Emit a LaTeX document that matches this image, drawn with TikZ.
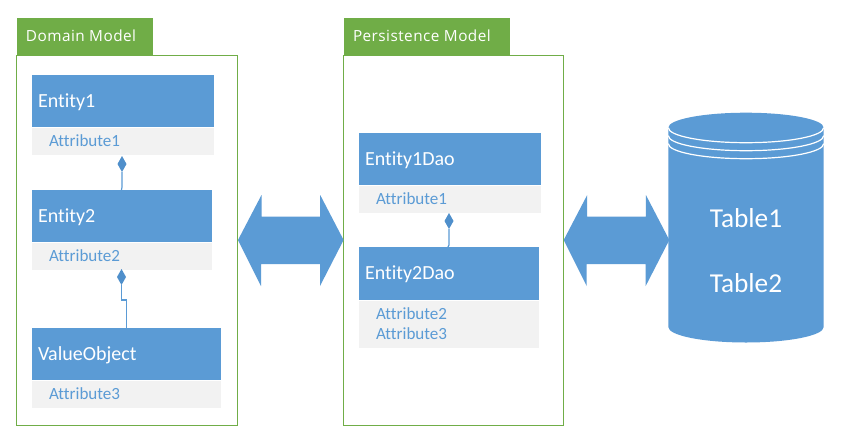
\documentclass[tikz,border=0pt]{standalone}
\usepackage{fontspec}
\setmainfont[Ligatures=NoCommon]{Carlito}
\newfontfamily\tabfont[LetterSpace=3]{Open Sans}
\definecolor{cblue}{HTML}{5B9BD5}
\definecolor{cgreen}{HTML}{70AD47}
\definecolor{cgrey}{HTML}{F2F2F2}
\definecolor{cdark}{HTML}{4F8FCB}
\tikzset{
  x=0.75pt,y=-0.75pt,
  headbox/.style={fill=cblue,inner sep=0pt,outer sep=0pt,text=white,font=\fontsize{15}{18}\selectfont,anchor=north west},
  attrbox/.style={fill=cgrey,inner sep=0pt,outer sep=0pt,text=cblue,font=\fontsize{12.8}{15}\selectfont,anchor=north west},
  tabbox/.style={fill=cgreen,inner sep=0pt,outer sep=0pt,text=white,font=\tabfont\fontsize{11.5}{13}\selectfont,anchor=north west},
  headboxtext/.style={yshift=-0.75pt},
  attrboxtext/.style={yshift=0.4pt},
  tabboxtext/.style={yshift=0.75pt},
  frame/.style={draw=cgreen,line width=0.75pt,fill=white,inner sep=0pt,outer sep=0pt,anchor=north west},
  link/.style={draw=cblue,line width=0.9pt},
  dia/.style={fill=cdark,draw=none},
  tabletext/.style={text=white,font=\fontsize{20.5}{24}\selectfont,inner sep=0pt},
}
\newcommand{\pxbox}[8]{% name style x y w h text xshift
  \node[#2,minimum width=#5*0.75pt,minimum height=#6*0.75pt] (#1) at (#3,#4) {};
  \node[#2,#2text,fill=none,anchor=west] (#1t) at ([xshift=#8*0.75pt]#1.west) {#7};
}
\newcommand{\diam}[3]{% name x ytop
  \coordinate (#1t) at (#2,#3);
  \coordinate (#1b) at (#2,#3+16);
  \fill[dia] (#1t) -- (#2+4.5,#3+8) -- (#1b) -- (#2-4.5,#3+8) -- cycle;
}
\newcommand{\dblarrow}[1]{% x-left
  \fill[cblue] (#1,240) -- (#1+23.5,195) -- (#1+23.5,216.7) -- (#1+82.2,216.7) -- (#1+82.2,195) -- (#1+105.6,240) -- (#1+82,286) -- (#1+82,264) -- (#1+23,264) -- (#1+23,286) -- cycle;
}
\begin{document}
\begin{tikzpicture}
\useasboundingbox (0,0) rectangle (847,447);
\fill[white] (0,0) rectangle (847,447);

% frames
\node[frame,minimum width=221*0.75pt,minimum height=370*0.75pt] (f1) at (16.5,55.5) {};
\node[frame,minimum width=220*0.75pt,minimum height=370*0.75pt] (f2) at (343.5,55.5) {};
\pxbox{tab1}{tabbox}{17}{18}{136}{37}{Domain Model}{9}
\pxbox{tab2}{tabbox}{344}{18}{166}{37}{Persistence Model}{9}

% left model
\pxbox{e1}{headbox}{32}{75}{182}{52}{Entity1}{6}
\pxbox{a1}{attrbox}{32}{128}{182}{27}{Attribute1}{17}
\pxbox{e2}{headbox}{32}{190}{180}{52}{Entity2}{6}
\pxbox{a2}{attrbox}{32}{243}{180}{27}{Attribute2}{17}
\pxbox{e3}{headbox}{32}{328}{189}{52}{ValueObject}{6}
\pxbox{a3}{attrbox}{32}{381}{189}{27}{Attribute3}{17}

% right model
\pxbox{e4}{headbox}{359}{133}{182}{52}{Entity1Dao}{6}
\pxbox{a4}{attrbox}{359}{186}{182}{27}{Attribute1}{17}
\pxbox{e5}{headbox}{359}{247}{180}{53}{Entity2Dao}{6}
\node[attrbox,minimum width=180*0.75pt,minimum height=47.5*0.75pt] (a5) at (359,300.5) {};
\node[attrbox,fill=none,anchor=north west,align=left] (a5t) at (376,307.5) {Attribute2\\Attribute3};

% diamonds and links
\diam{d1}{122}{156}
\diam{d2}{121.5}{269}
\diam{d3}{449}{213}
\coordinate (c1a) at (122,187);
\coordinate (c2a) at (121.5,300);
\coordinate (c2b) at (126.5,300);
\coordinate (c3a) at (449,245);
\draw[link] (d1b) -- (c1a) -- (e2.north -| 121.5,0);
\draw[link] (d2b) -- (c2a) -- (c2b) -- (e3.north -| c2b);
\draw[link] (d3b) -- (c3a) -- (e5.north -| 448,0);

% double arrows
\dblarrow{238}
\dblarrow{563.7}

% cylinder
\fill[cblue] (668.3,127.7) arc[start angle=180,end angle=360,x radius=77.7,y radius=15]
  -- (823.7,327) arc[start angle=0,end angle=180,x radius=77.7,y radius=15.5] -- cycle;
\foreach \dy in {0,8,16}{
  \draw[white,line width=0.9pt] (668.3,127.7+\dy) arc[start angle=180,end angle=0,x radius=77.7,y radius=15];
}
\node[tabletext] (t1) at (746,218) {Table1};
\node[tabletext] (t2) at (746,283) {Table2};
\end{tikzpicture}
\end{document}
